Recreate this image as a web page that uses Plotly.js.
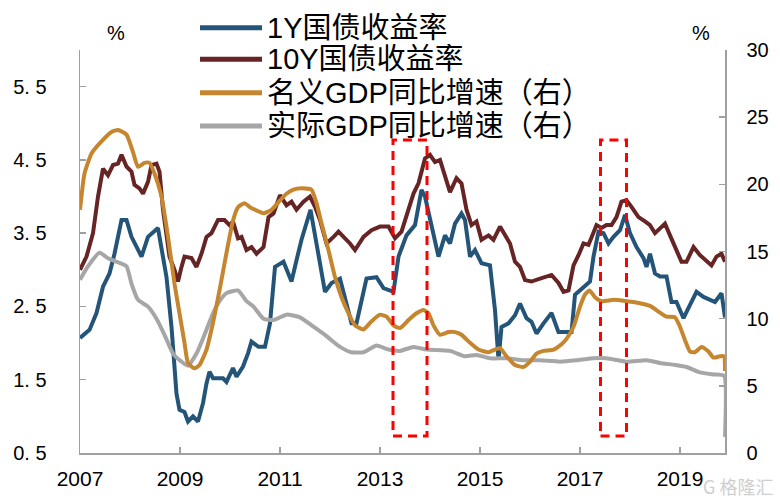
<!DOCTYPE html>
<html>
<head>
<meta charset="utf-8">
<script src="https://cdn.plot.ly/plotly-3.0.1.min.js"></script>
<style>html,body{margin:0;padding:0;background:#fff;}#chart{width:780px;height:504px;}</style>
</head>
<body>
<div id="chart"></div>
<script>
// ---------------- data ----------------
const seriesNames = ['1Y国债收益率', '10Y国债收益率', '名义GDP同比增速（右）', '实际GDP同比增速（右）'];

// 1Y government bond yield (%), left axis
const y1Time = [2007.00,2007.19,2007.33,2007.46,2007.59,2007.69,2007.83,2007.93,2008.03,2008.23,2008.36,2008.56,2008.59,2008.73,2008.83,2008.93,2008.99,2009.09,2009.16,2009.26,2009.36,2009.46,2009.53,2009.59,2009.66,2009.86,2009.93,2010.06,2010.13,2010.26,2010.36,2010.43,2010.57,2010.70,2010.80,2010.90,2011.07,2011.23,2011.33,2011.43,2011.61,2011.73,2011.90,2012.03,2012.20,2012.43,2012.53,2012.73,2012.93,2013.07,2013.27,2013.37,2013.53,2013.70,2013.83,2013.90,2014.03,2014.17,2014.30,2014.40,2014.50,2014.63,2014.70,2014.80,2014.90,2015.03,2015.20,2015.30,2015.37,2015.43,2015.57,2015.70,2015.80,2015.93,2016.03,2016.13,2016.27,2016.43,2016.57,2016.83,2016.90,2017.07,2017.20,2017.27,2017.37,2017.47,2017.57,2017.67,2017.80,2017.90,2018.00,2018.13,2018.27,2018.33,2018.40,2018.50,2018.60,2018.73,2018.83,2018.93,2019.07,2019.20,2019.33,2019.47,2019.70,2019.83,2019.90];
const y1Value = [2.07,2.18,2.41,2.77,2.95,3.22,3.68,3.68,3.45,3.18,3.45,3.57,3.45,2.90,2.22,1.31,1.09,1.06,0.93,1.00,0.93,1.18,1.45,1.61,1.52,1.52,1.47,1.66,1.54,1.68,1.86,2.02,1.95,1.95,2.27,3.04,3.11,2.84,3.13,3.41,3.82,3.36,2.70,2.82,2.88,2.27,2.27,2.88,2.90,2.75,2.70,3.18,3.47,3.61,4.09,4.00,3.63,3.18,3.47,3.36,3.63,3.77,3.68,3.18,3.27,3.09,3.06,2.45,1.77,2.22,2.27,2.38,2.54,2.34,2.29,2.13,2.27,2.41,2.15,2.15,2.66,2.77,2.84,3.18,3.52,3.50,3.36,3.45,3.54,3.75,3.50,3.31,3.16,3.04,3.22,2.95,2.91,2.91,2.56,2.56,2.34,2.52,2.70,2.63,2.56,2.68,2.35];

// 10Y government bond yield (%), left axis
const y10Time = [2007.00,2007.13,2007.26,2007.36,2007.46,2007.56,2007.66,2007.76,2007.83,2007.93,2008.03,2008.09,2008.19,2008.26,2008.36,2008.43,2008.53,2008.59,2008.66,2008.73,2008.79,2008.89,2008.96,2009.03,2009.09,2009.23,2009.33,2009.43,2009.53,2009.63,2009.69,2009.76,2009.89,2009.99,2010.06,2010.16,2010.23,2010.33,2010.43,2010.53,2010.67,2010.77,2010.87,2011.00,2011.13,2011.23,2011.33,2011.47,2011.60,2011.70,2011.80,2011.93,2012.07,2012.17,2012.30,2012.40,2012.50,2012.67,2012.83,2013.00,2013.17,2013.30,2013.43,2013.53,2013.67,2013.77,2013.90,2014.00,2014.10,2014.20,2014.30,2014.40,2014.53,2014.63,2014.73,2014.83,2014.93,2015.03,2015.17,2015.27,2015.40,2015.50,2015.60,2015.70,2015.80,2015.90,2016.03,2016.20,2016.33,2016.43,2016.57,2016.67,2016.77,2016.87,2016.97,2017.07,2017.17,2017.27,2017.33,2017.43,2017.53,2017.63,2017.73,2017.83,2017.93,2018.03,2018.17,2018.30,2018.40,2018.50,2018.60,2018.70,2018.80,2018.93,2019.03,2019.13,2019.27,2019.40,2019.53,2019.63,2019.73,2019.83,2019.90];
const y10Value = [3.00,3.18,3.50,4.00,4.38,4.29,4.43,4.45,4.57,4.41,4.34,4.16,4.11,4.04,4.20,4.43,4.45,4.34,3.82,3.45,3.18,3.00,2.84,3.04,3.18,3.16,3.04,3.22,3.45,3.50,3.59,3.68,3.68,3.61,3.66,3.43,3.45,3.27,3.31,3.22,3.31,3.72,3.77,4.02,3.88,3.93,3.82,3.93,4.00,3.86,3.68,3.36,3.45,3.52,3.43,3.36,3.27,3.45,3.54,3.59,3.59,3.43,3.52,3.72,4.04,4.18,4.52,4.57,4.47,4.50,4.27,4.06,4.25,4.18,3.82,3.61,3.66,3.41,3.47,3.41,3.59,3.47,3.36,3.11,3.04,2.86,2.84,2.88,2.91,2.93,2.82,2.70,2.72,3.06,3.20,3.36,3.34,3.52,3.61,3.57,3.61,3.61,3.72,3.93,3.95,3.86,3.72,3.66,3.61,3.50,3.57,3.63,3.47,3.27,3.11,3.11,3.31,3.20,3.11,3.06,3.18,3.22,3.11];

// Nominal GDP YoY growth (%), right axis
const ngdpTime = [2007.00,2007.09,2007.23,2007.43,2007.63,2007.76,2007.93,2008.06,2008.16,2008.29,2008.39,2008.49,2008.63,2008.76,2008.89,2008.99,2009.09,2009.16,2009.29,2009.39,2009.53,2009.66,2009.79,2009.93,2010.06,2010.16,2010.29,2010.40,2010.67,2010.83,2011.00,2011.13,2011.27,2011.43,2011.63,2011.73,2011.83,2011.97,2012.10,2012.23,2012.37,2012.50,2012.67,2012.83,2013.00,2013.13,2013.27,2013.40,2013.57,2013.73,2013.87,2013.97,2014.07,2014.20,2014.37,2014.50,2014.63,2014.80,2014.97,2015.17,2015.30,2015.40,2015.53,2015.70,2015.87,2016.00,2016.13,2016.27,2016.47,2016.63,2016.73,2016.87,2017.00,2017.10,2017.19,2017.30,2017.43,2017.67,2017.93,2018.20,2018.40,2018.60,2018.73,2018.90,2019.00,2019.10,2019.20,2019.30,2019.43,2019.57,2019.67,2019.80,2019.88,2019.90];
const ngdpValue = [18.1,20.8,22.3,23.2,23.9,24.05,23.7,22.4,21.3,21.6,21.6,20.8,19.1,16.1,12.6,10.4,8.2,6.7,6.3,6.55,7.7,9.7,12.1,14.9,17.3,18.3,18.6,18.3,17.85,18.1,18.8,19.3,19.6,19.7,19.6,18.6,17.1,15.1,13.1,11.6,10.4,9.5,9.2,9.8,10.3,10.15,9.5,9.3,9.9,10.4,10.65,10.4,9.5,8.8,9.0,9.0,8.8,8.2,7.7,7.5,7.7,7.8,7.2,6.55,6.4,6.8,7.4,7.6,7.7,8.1,8.5,9.4,10.9,11.8,12.1,11.6,11.3,11.4,11.3,11.15,10.95,10.45,10.15,10.1,9.4,8.4,7.55,7.5,7.9,7.55,7.1,7.2,7.2,6.1];

// Real GDP YoY growth (%), right axis
const rgdpTime = [2007.00,2007.16,2007.39,2007.56,2007.76,2007.93,2008.03,2008.16,2008.36,2008.53,2008.69,2008.86,2009.03,2009.16,2009.33,2009.49,2009.66,2009.79,2009.93,2010.16,2010.33,2010.47,2010.67,2010.87,2011.13,2011.40,2011.67,2011.93,2012.20,2012.43,2012.67,2012.93,2013.17,2013.40,2013.67,2013.93,2014.40,2014.70,2014.93,2015.20,2015.53,2015.87,2016.20,2016.60,2016.93,2017.27,2017.53,2017.93,2018.33,2018.60,2018.90,2019.13,2019.40,2019.67,2019.88,2019.90];
const rgdpValue = [12.9,13.9,14.9,14.5,14.2,13.9,12.6,11.4,10.9,10.0,8.8,7.4,6.8,6.5,7.4,8.8,10.4,11.3,11.9,12.1,11.3,10.9,10.0,9.9,10.3,10.1,9.4,8.7,7.9,7.5,7.5,8.0,7.7,7.6,7.9,7.7,7.6,7.2,7.3,7.05,7.05,6.9,6.9,6.8,6.9,7.05,7.05,6.8,6.9,6.7,6.55,6.4,6.0,5.85,5.75,1.2];

// axis ticks
const xTickVals = [2007, 2009, 2011, 2013, 2015, 2017, 2019];
const xTickText = ['2007', '2009', '2011', '2013', '2015', '2017', '2019'];
const leftTickVals = [0.5, 1.5, 2.5, 3.5, 4.5, 5.5];
const leftTickText = ['0. 5', '1. 5', '2. 5', '3. 5', '4. 5', '5. 5'];
const rightTickVals = [0, 5, 10, 15, 20, 25, 30];

// highlighted periods (years) marked with dashed boxes
const highlightPeriods = [[2013.26, 2013.94], [2017.41, 2017.93]];

// ---------------- styling / layout ----------------
const colors = ['#245578', '#662424', '#C5862F', '#A6A6A6'];
const W = 780, H = 504;
const M = {l: 80, r: 55, t: 50, b: 51};
const px2x = px => (px - M.l) / (W - M.l - M.r);
const py2y = py => (H - M.b - py) / (H - M.t - M.b);

const traces = [
  {x: y1Time, y: y1Value, yaxis: 'y', line: {color: colors[0], width: 4}},
  {x: y10Time, y: y10Value, yaxis: 'y', line: {color: colors[1], width: 4}},
  {x: ngdpTime, y: ngdpValue, yaxis: 'y2', line: {color: colors[2], width: 4, shape: 'spline', smoothing: 0.5}},
  {x: rgdpTime, y: rgdpValue, yaxis: 'y2', line: {color: colors[3], width: 4, shape: 'spline', smoothing: 0.5}}
].map((t, i) => Object.assign(t, {type: 'scatter', mode: 'lines', name: seriesNames[i], hoverinfo: 'skip'}));

// draw order: real GDP at the back
const ordered = [traces[3], traces[2], traces[1], traces[0]];

const axisColor = '#A0A0A0';
const tickFont = {family: 'Liberation Sans, Arial, sans-serif', size: 20, color: '#000'};

const shapes = [];
const annotations = [];
highlightPeriods.forEach(p => {
  shapes.push({type: 'rect', xref: 'x', yref: 'y2', x0: p[0], x1: p[1], y0: 1.27, y1: 23.3,
    line: {color: '#FF0000', width: 3, dash: '9px,6px'}, fillcolor: 'rgba(0,0,0,0)', layer: 'above'});
});
const legendRows = [27.7, 59.3, 92.7, 126];
seriesNames.forEach((n, i) => {
  shapes.push({type: 'line', xref: 'paper', yref: 'paper', x0: px2x(200), x1: px2x(262),
    y0: py2y(legendRows[i]), y1: py2y(legendRows[i]), line: {color: colors[i], width: 5}});
  annotations.push({xref: 'paper', yref: 'paper', x: px2x(265), y: py2y(legendRows[i]), xanchor: 'left', yanchor: 'middle',
    text: n, showarrow: false, height: 30,
    font: {family: 'Liberation Sans, Noto Sans CJK SC, sans-serif', size: 29, color: '#000'}});
});
annotations.push({xref: 'paper', yref: 'paper', x: px2x(116), y: py2y(33), xanchor: 'center', yanchor: 'middle',
  text: '%', showarrow: false, font: {family: 'Liberation Sans, Arial, sans-serif', size: 20, color: '#000'}});
annotations.push({xref: 'paper', yref: 'paper', x: px2x(701), y: py2y(33), xanchor: 'center', yanchor: 'middle',
  text: '%', showarrow: false, font: {family: 'Liberation Sans, Arial, sans-serif', size: 20, color: '#000'}});
annotations.push({xref: 'paper', yref: 'paper', x: px2x(775), y: py2y(486), xanchor: 'right', yanchor: 'middle',
  text: 'G 格隆汇', showarrow: false, font: {family: 'Noto Sans CJK SC, sans-serif', size: 18, color: '#CFCFCF'}});

const layout = {
  width: W, height: H,
  margin: M,
  paper_bgcolor: '#fff', plot_bgcolor: '#fff',
  showlegend: false,
  xaxis: {
    type: 'linear', range: [2007, 2019.9], tickvals: xTickVals, ticktext: xTickText,
    ticks: 'inside', ticklen: 6, tickcolor: axisColor, tickwidth: 1.5,
    showline: true, linecolor: axisColor, linewidth: 1.5, showgrid: false, zeroline: false,
    tickfont: Object.assign({}, tickFont, {size: 21}), ticklabelstandoff: 6
  },
  yaxis: {
    range: [0.5, 6.0], tickvals: leftTickVals, ticktext: leftTickText,
    ticks: 'inside', ticklen: 6, tickcolor: axisColor, tickwidth: 1.5,
    showline: true, linecolor: axisColor, linewidth: 1.5, showgrid: false, zeroline: false,
    tickfont: tickFont, ticklabelstandoff: 28
  },
  yaxis2: {
    overlaying: 'y', side: 'right', range: [0, 30], tickvals: rightTickVals,
    ticks: 'inside', ticklen: 6, tickcolor: axisColor, tickwidth: 1.5,
    showline: true, linecolor: axisColor, linewidth: 1.5, showgrid: false, zeroline: false,
    tickfont: tickFont, ticklabelstandoff: 16
  },
  shapes: shapes,
  annotations: annotations
};

Plotly.newPlot('chart', ordered, layout, {staticPlot: true, displayModeBar: false});
</script>
</body>
</html>
